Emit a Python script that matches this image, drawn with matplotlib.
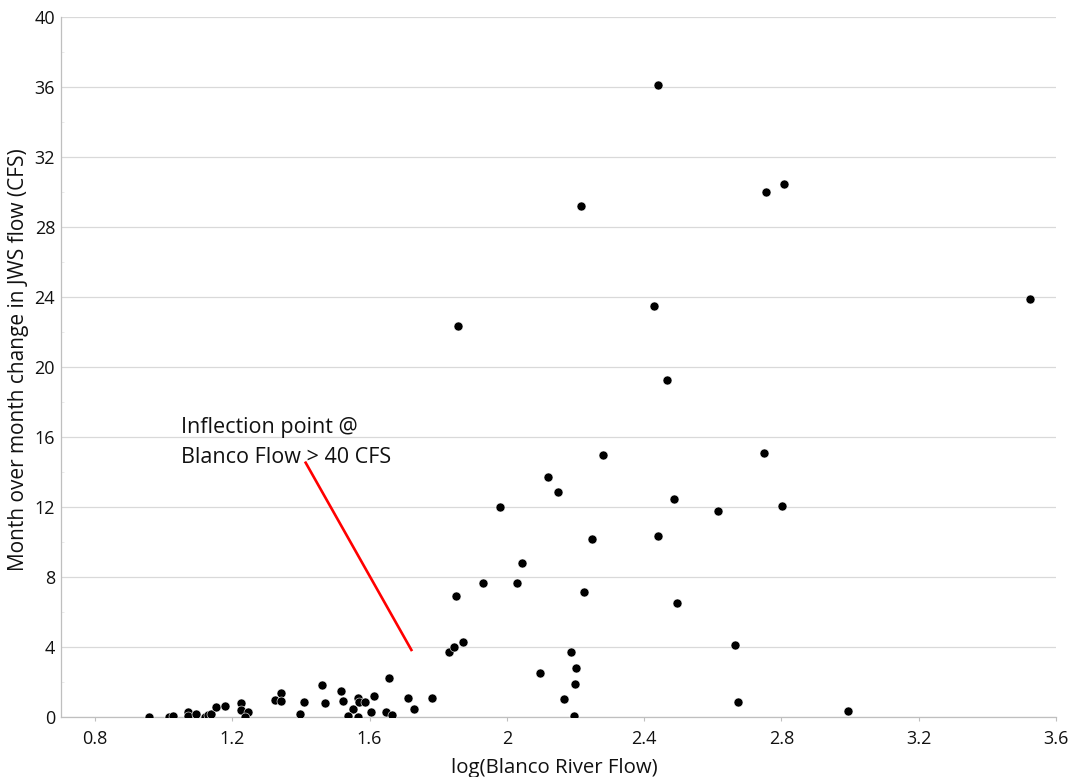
import matplotlib
matplotlib.use('agg')
import matplotlib.pyplot as plt
from matplotlib.ticker import MultipleLocator, FuncFormatter

plt.rcParams['font.family'] = ['Open Sans', 'DejaVu Sans']

# log10 of Blanco River flow vs month-over-month change in JWS flow (CFS)
log_flow = [
    0.957, 1.015, 1.028, 1.072, 1.072, 1.094, 1.121, 1.130, 1.138, 1.154,
    1.179, 1.227, 1.225, 1.246, 1.238, 1.324, 1.341, 1.341, 1.396, 1.409,
    1.463, 1.471, 1.516, 1.523, 1.552, 1.537, 1.565, 1.570, 1.565, 1.587,
    1.603, 1.612, 1.658, 1.649, 1.666, 1.712, 1.729, 1.783, 1.831, 1.847,
    1.871, 2.121, 2.150, 1.981, 2.488, 2.616, 2.803, 2.247, 2.441, 2.044,
    1.932, 2.029, 1.851, 2.224, 2.496, 2.188, 2.666, 2.202, 2.096, 2.198,
    2.168, 2.674, 2.994, 2.196, 2.440, 2.215, 2.756, 2.807, 1.857, 2.428,
    2.467, 2.281, 2.750, 3.525,
]
jws_change = [
    0.00, 0.00, 0.08, 0.30, 0.08, 0.17, 0.00, 0.13, 0.19, 0.57,
    0.67, 0.84, 0.42, 0.32, 0.00, 1.00, 1.37, 0.93, 0.19, 0.90,
    1.85, 0.82, 1.52, 0.95, 0.46, 0.08, 1.09, 0.86, 0.04, 0.88,
    0.30, 1.20, 2.27, 0.30, 0.11, 1.13, 0.46, 1.12, 3.73, 4.03,
    4.32, 13.71, 12.89, 12.02, 12.47, 11.81, 12.09, 10.17, 10.34, 8.84,
    7.67, 7.67, 6.93, 7.14, 6.53, 3.75, 4.11, 2.84, 2.51, 1.90,
    1.03, 0.86, 0.38, 0.09, 36.15, 29.20, 30.00, 30.47, 22.34, 23.50,
    19.26, 14.97, 15.08, 23.90,
]

note_lines = ['Inflection point @', 'Blanco Flow > 40 CFS']
note_x = 1.052
note_y = [16.26, 14.51]
pointer_x = [1.414, 1.722]
pointer_y = [14.55, 3.85]

fig = plt.figure(figsize=(10.73, 7.77), dpi=100)
ax = fig.add_axes([0.0565, 0.0768, 0.9276, 0.9009])

ax.scatter(log_flow, jws_change, s=42, color='black', edgecolors='white',
           linewidths=0.4, zorder=3)

ax.plot(pointer_x, pointer_y, color='#ff0000', lw=1.9, zorder=4)
for txt, yy in zip(note_lines, note_y):
    ax.text(note_x, yy, txt, fontsize=15.5, va='baseline', ha='left', color='#111111')

ax.set_xlim(0.7, 3.6)
ax.set_ylim(0, 40)
ax.set_xticks([0.8, 1.2, 1.6, 2.0, 2.4, 2.8, 3.2, 3.6])
ax.xaxis.set_major_formatter(FuncFormatter(lambda v, p: '{:g}'.format(round(v, 2))))
ax.yaxis.set_major_locator(MultipleLocator(4))
ax.yaxis.set_minor_locator(MultipleLocator(2))

ax.grid(axis='y', which='major', color='#d9d9d9', lw=0.9)
ax.set_axisbelow(True)
for side in ['top', 'right']:
    ax.spines[side].set_visible(False)
for side in ['left', 'bottom']:
    ax.spines[side].set_color('#bfbfbf')
    ax.spines[side].set_linewidth(0.9)

ax.tick_params(axis='x', which='major', length=3, color='#bfbfbf', labelsize=13,
               labelcolor='#111111', pad=6)
ax.tick_params(axis='y', which='major', length=0, labelsize=13,
               labelcolor='#111111', pad=4)
ax.tick_params(axis='y', which='minor', length=2, color='#e6e6e6', direction='in')

# axis titles placed in figure pixels to match the source layout
fig.text(554 / 1073, 1 - 773 / 777, 'log(Blanco River Flow)', fontsize=14.7,
         ha='center', va='baseline', color='#111111')
fig.text(18.5 / 1073, 1 - 360 / 777, 'Month over month change in JWS flow (CFS)',
         fontsize=15, rotation=90, ha='center', va='center', color='#111111')

fig.savefig('out.png', dpi=100)
